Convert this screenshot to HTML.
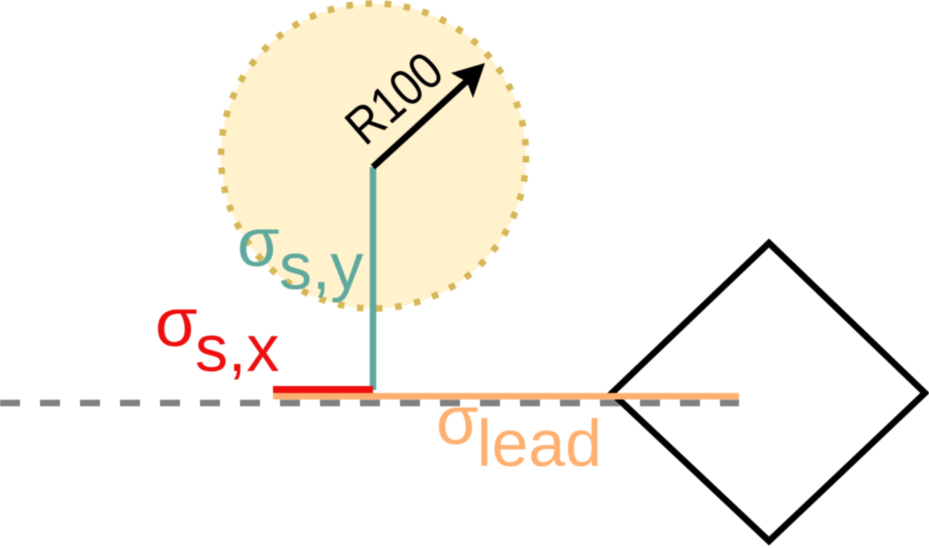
<!DOCTYPE html>
<html>
<head>
<meta charset="utf-8">
<style>
html,body{margin:0;padding:0;background:#fff;width:929px;height:548px;overflow:hidden}
svg{display:block;filter:blur(.6px)}
text{font-family:"Liberation Sans",sans-serif}
</style>
</head>
<body>
<svg width="929" height="548" viewBox="0 0 929 548" xmlns="http://www.w3.org/2000/svg">
<circle cx="373.5" cy="156" r="152.5" fill="#fff2cc" stroke="#d6b656" stroke-width="6.5" stroke-dasharray="6.5 12.7"/>
<path d="M0 403H739" stroke="#808080" stroke-width="6.5" stroke-dasharray="20 20" fill="none"/>
<path d="M769 243L925 393L769 541L612 393Z" fill="none" stroke="#000" stroke-width="6.5" stroke-linejoin="miter"/>
<path d="M373 167V390" stroke="#5fa89e" stroke-width="6.5" fill="none"/>
<rect x="273" y="386" width="100" height="7" fill="#ee0e0e"/>
<rect x="273" y="393" width="466" height="6.5" fill="#ffb070"/>
<path d="M373 167L468 80" stroke="#000" stroke-width="6.5" fill="none"/>
<path d="M485 63L451 73L467 82L473 98Z" fill="#000"/>
<text transform="translate(365 147) rotate(-41)" font-size="52" fill="#000" textLength="108" lengthAdjust="spacingAndGlyphs">R100</text>
<text x="237" y="266" font-size="69" fill="#5fa89e">σ</text>
<text x="279" y="289" font-size="66" fill="#5fa89e">s,y</text>
<text x="155" y="346" font-size="69" fill="#ee0e0e">σ</text>
<text x="195" y="371" font-size="66" fill="#ee0e0e">s,x</text>
<text x="436" y="444" font-size="69" fill="#ffb070">σ</text>
<text x="477" y="466" font-size="66" fill="#ffb070">lead</text>
</svg>
</body>
</html>
